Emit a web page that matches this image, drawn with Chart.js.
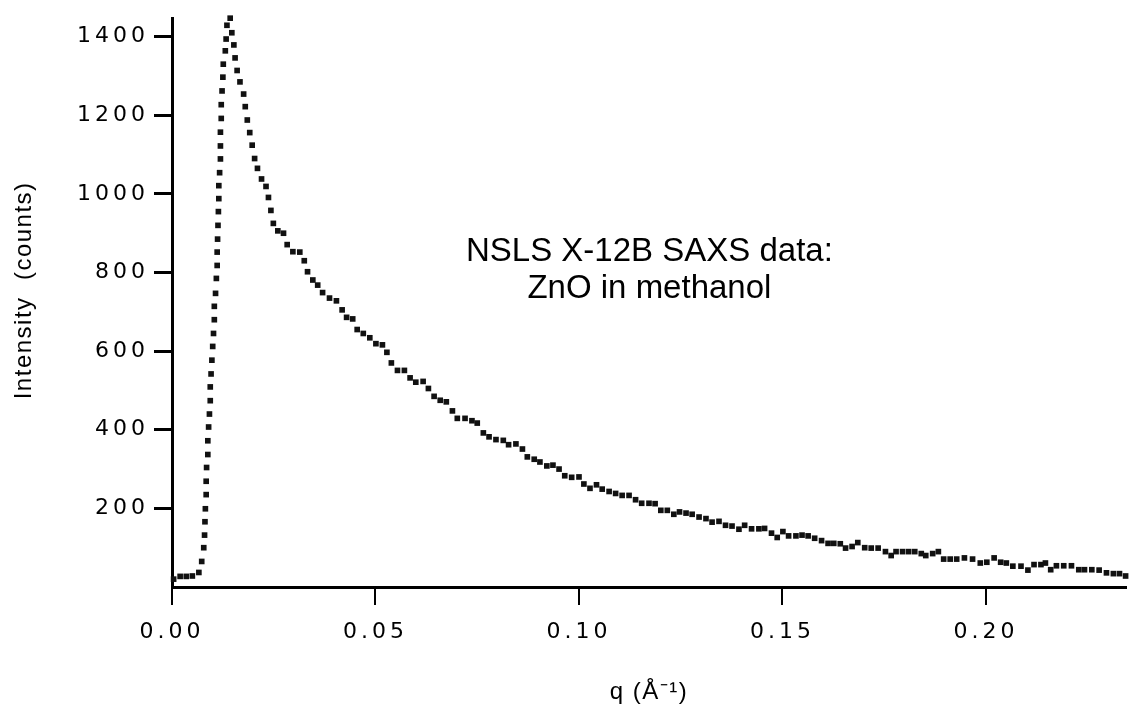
<!DOCTYPE html>
<html>
<head>
<meta charset="utf-8">
<script src="https://cdn.jsdelivr.net/npm/chart.js@4.4.1/dist/chart.umd.min.js"></script>
<style>
  html, body { margin: 0; padding: 0; background: #fff; }
</style>
</head>
<body>
<canvas id="saxs" width="1130" height="723"></canvas>
<script>
// q in 1/Angstrom, read dot by dot from the plot
const qValues = [
  0.0004, 0.0020, 0.0035, 0.0050, 0.0066,
  0.0073, 0.0078, 0.0080, 0.0081, 0.0082, 0.0084, 0.0084, 0.0085, 0.0088, 0.0088,
  0.0090, 0.0092, 0.0094, 0.0094, 0.0096, 0.0098, 0.0100, 0.0102, 0.0104, 0.0104,
  0.0107, 0.0109, 0.0111, 0.0111, 0.0112, 0.0113, 0.0114, 0.0115, 0.0115, 0.0117,
  0.0119, 0.0119, 0.0119, 0.0121, 0.0121, 0.0123, 0.0125, 0.0126, 0.0131, 0.0133,
  0.0135, 0.0143,
  0.0147, 0.0152, 0.0155, 0.0160, 0.0167, 0.0176, 0.0180, 0.0185, 0.0191, 0.0197,
  0.0203, 0.0210, 0.0220, 0.0231, 0.0237, 0.0243, 0.0249, 0.0260, 0.0274, 0.0283,
  0.0297, 0.0314, 0.0325, 0.0333, 0.0346, 0.0358, 0.0370, 0.0387, 0.0404,
  0.0418, 0.0429, 0.0444, 0.0455, 0.0470, 0.0486, 0.0501, 0.0517, 0.0528, 0.0539,
  0.0554, 0.0571, 0.0585, 0.0599, 0.0617, 0.0630, 0.0644, 0.0659, 0.0674, 0.0689,
  0.0701, 0.0720, 0.0737,
  0.0750, 0.0765, 0.0779, 0.0796, 0.0814, 0.0827, 0.0845, 0.0861, 0.0873, 0.0890,
  0.0904, 0.0921, 0.0936, 0.0951, 0.0965, 0.0982, 0.1000, 0.1012, 0.1027, 0.1043,
  0.1057, 0.1074, 0.1090, 0.1106, 0.1123, 0.1139,
  0.1154, 0.1172, 0.1187, 0.1201, 0.1217, 0.1233, 0.1247, 0.1263, 0.1278, 0.1295,
  0.1312, 0.1327, 0.1344, 0.1360, 0.1376, 0.1393, 0.1407, 0.1424, 0.1442, 0.1456,
  0.1473, 0.1487, 0.1501, 0.1515,
  0.1533, 0.1548, 0.1563, 0.1579, 0.1596, 0.1612, 0.1626, 0.1642, 0.1655, 0.1671,
  0.1685, 0.1702, 0.1718, 0.1735, 0.1753, 0.1767, 0.1779, 0.1795, 0.1810, 0.1825,
  0.1841, 0.1852, 0.1869, 0.1883, 0.1896, 0.1912, 0.1928,
  0.1947, 0.1967, 0.1986, 0.2002, 0.2020, 0.2036, 0.2050, 0.2066, 0.2086, 0.2103,
  0.2118, 0.2135, 0.2146, 0.2159, 0.2173, 0.2191, 0.2210, 0.2228, 0.2242, 0.2260,
  0.2278, 0.2296, 0.2313, 0.2328, 0.2343
];

// intensity in counts, same order as qValues
const intensityValues = [
  20, 27, 27, 28, 37,
  65, 100, 132, 166, 199, 235, 269, 304, 337, 372,
  407, 440, 474, 509, 542, 577, 612, 645, 680, 714,
  747, 785, 818, 852, 885, 920, 955, 988, 1021, 1054,
  1089, 1122, 1157, 1192, 1227, 1262, 1297, 1330, 1364, 1394,
  1429, 1447,
  1410, 1379, 1346, 1314, 1285, 1254, 1222, 1188, 1156, 1124,
  1090, 1065, 1038, 1019, 991, 958, 925, 906, 900, 871,
  853, 852, 830, 802, 781, 768, 749, 735, 728,
  705, 686, 682, 655, 645, 634, 619, 616, 597, 570,
  551, 551, 532, 521, 523, 505, 485, 475, 471, 448,
  429, 429, 423,
  417, 392, 382, 375, 373, 362, 364, 351, 331, 325,
  318, 308, 310, 300, 283, 279, 280, 262, 251, 260,
  249, 243, 238, 233, 233, 222,
  213, 213, 212, 195, 195, 185, 191, 188, 185, 178,
  174, 165, 167, 157, 155, 147, 157, 148, 148, 149,
  137, 126, 141, 130,
  130, 132, 130, 124, 118, 111, 111, 110, 99, 103,
  113, 100, 99, 99, 90, 80, 90, 90, 90, 90,
  85, 80, 85, 90, 71, 71, 71,
  74, 71, 61, 63, 74, 63, 61, 53, 53, 43,
  57, 57, 61, 44, 54, 54, 54, 44, 44, 44,
  43, 36, 34, 34, 28
];

const yTickValues = [200, 400, 600, 800, 1000, 1200, 1400];
const xTickValues = [0, 0.05, 0.10, 0.15, 0.20];
const noteLines = ['NSLS X-12B SAXS data:', 'ZnO in methanol'];

const points = qValues.map((q, i) => ({ x: q, y: intensityValues[i] }));

// wide lettering like the original, plus the text note
const notePlugin = {
  id: 'note',
  beforeDraw(chart) {
    chart.ctx.letterSpacing = '1.5px';   // axis titles
  },
  afterDatasetsDraw(chart) {
    chart.ctx.letterSpacing = '4px';     // tick labels (drawn on z 1)
  },
  afterDraw(chart) {
    const ctx = chart.ctx;
    ctx.letterSpacing = '0px';
    const xs = chart.scales.x, ys = chart.scales.y;
    ctx.save();
    ctx.fillStyle = '#000';
    ctx.font = '33px "Liberation Sans", Arial, sans-serif';
    ctx.textAlign = 'center';
    ctx.textBaseline = 'middle';
    const cx = xs.getPixelForValue(0.1173);
    ctx.fillText(noteLines[0], cx, ys.getPixelForValue(853));
    ctx.fillText(noteLines[1], cx, ys.getPixelForValue(758));
    ctx.restore();
  }
};

new Chart(document.getElementById('saxs'), {
  type: 'scatter',
  data: {
    datasets: [{
      data: points,
      showLine: false,
      pointStyle: 'rect',
      pointRadius: 4,
      pointHoverRadius: 4,
      pointBorderWidth: 0,
      pointBackgroundColor: '#111',
      clip: false
    }]
  },
  options: {
    responsive: false,
    animation: false,
    devicePixelRatio: 1,
    layout: { padding: { top: 11, right: 3, left: 0, bottom: 0 } },
    plugins: { legend: { display: false }, tooltip: { enabled: false } },
    scales: {
      x: {
        type: 'linear',
        min: 0,
        max: 0.2344,
        afterBuildTicks: s => { s.ticks = xTickValues.map(v => ({ value: v })); },
        afterFit: s => { s.height = 136; },
        grid: { drawOnChartArea: false, tickLength: 18, lineWidth: 2, color: '#000' },
        border: { display: true, width: 3, color: '#000' },
        ticks: {
          z: 1,
          color: '#000',
          padding: 14,
          maxRotation: 0,
          font: { family: 'DejaVu Sans', size: 22 },
          callback: v => v.toFixed(2)
        },
        title: {
          display: true,
          text: 'q (Å⁻¹)',
          color: '#000',
          font: { family: 'Liberation Sans', size: 24 },
          padding: { top: 0, bottom: 16 }
        }
      },
      y: {
        type: 'linear',
        min: 0,
        max: 1447,
        afterBuildTicks: s => { s.ticks = yTickValues.map(v => ({ value: v })); },
        afterFit: s => { s.width = 172; },
        grid: { drawOnChartArea: false, tickLength: 18, lineWidth: 3, color: '#000' },
        border: { display: true, width: 3, color: '#000' },
        ticks: {
          z: 1,
          color: '#000',
          padding: 5,
          font: { family: 'DejaVu Sans', size: 22 },
          callback: v => String(v)
        },
        title: {
          display: true,
          text: '   Intensity  (counts)',
          color: '#000',
          font: { family: 'Liberation Sans', size: 24 },
          padding: { top: 10, bottom: 0 }
        }
      }
    }
  },
  plugins: [notePlugin]
});
</script>
</body>
</html>
